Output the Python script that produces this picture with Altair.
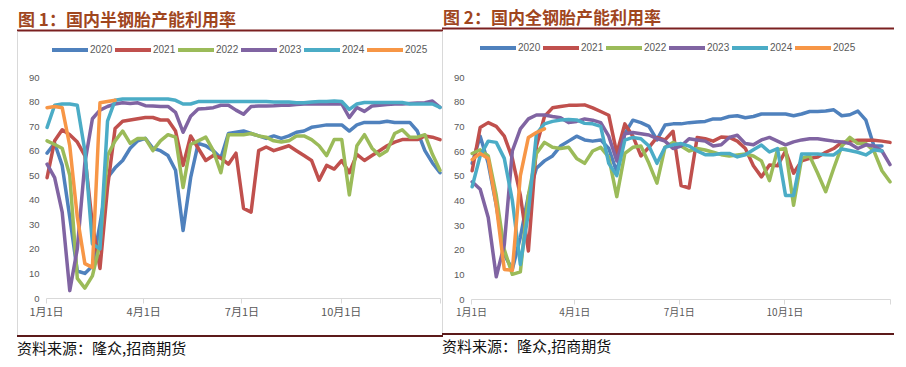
import altair as alt
import pandas as pd

# ---------------- data ----------------
years = ["2020", "2021", "2022", "2023", "2024", "2025"]
colors = ["#4F81BD", "#C0504D", "#9BBB59", "#8064A2", "#4BACC6", "#F79646"]

title1 = "图 1：国内半钢胎产能利用率"
title2 = "图 2：国内全钢胎产能利用率"
source_text = "资料来源：隆众,招商期货"

tick_days = [0, 90, 181, 273, 365]
tick_labels = ["1月1日", "4月1日", "7月1日", "10月1日", ""]
y_ticks = [0, 10, 20, 30, 40, 50, 60, 70, 80, 90]

first_day = 1
step_days = 7

# chart 1: semi-steel tyre utilisation (%), weekly
c1_2020 = [59, 63, 54, 33, 11, 10, 13, 30, 49, 53, 56, 61, 64, 65, 61, 60, 58, 52, 27.5, 49,
           63, 62, 60, 57, 67, 67.5, 68, 67, 66, 65, 66, 65, 66, 67.5, 68, 69.5, 70, 70.5, 70.5, 70.5,
           68, 70.5, 71.5, 71.5, 71.5, 72, 71.5, 71.5, 71.5, 68, 60, 55, 51]
c1_2021 = [49, 64, 68.5, 66.5, 63.5, 58, 30, 12, 45, 69, 72, 72.5, 73, 73.5, 73.5, 72.5, 72.5, 68, 54, 66,
           61, 56, 58, 57, 54.5, 59, 36.5, 35, 60, 61.5, 60, 61, 62, 60, 58, 56, 48, 54, 52.5, 56,
           51, 58.5, 56, 58, 60, 62, 63.5, 64.5, 64.5, 64.5, 66, 65.5, 64.5]
c1_2022 = [64, 62.5, 61, 50, 8, 4, 9, 22, 58, 64, 68, 63, 65, 65, 60, 64, 66.5, 65.5, 45, 62.5,
           64, 65.5, 60, 51, 66.5, 66.5, 66.5, 67, 66, 65.5, 64, 63.5, 64, 66, 66, 64.5, 62, 58, 64.5, 64.5,
           42, 62, 66.5, 61, 58, 60, 67, 68.5, 65.5, 65.5, 66.5, 58.5, 52]
c1_2023 = [54.5, 49, 35, 3, 20, 55, 73, 76.5, 78, 79, 79.5, 79.2, 79.5, 78.3, 78.2, 78, 78, 75.6, 67.5, 74,
           77, 77.2, 77.5, 78.5, 78.5, 76.5, 74.8, 78, 78.2, 78.2, 78.3, 78.5, 78.5, 78.8, 79, 79, 79, 79, 79, 79,
           73.5, 77.6, 76, 78.2, 78.5, 78.8, 79, 79, 79.2, 79.4, 79.5, 80.2, 77.6]
c1_2024 = [69.5, 78.5, 79, 79, 78.5, 60, 22, 20, 72, 80.5, 81, 81, 81, 81, 81, 81, 81, 80.5, 79, 79,
           80, 80, 80, 80, 80, 80, 80, 80, 80, 80, 79.8, 79.8, 79.8, 79.5, 79.5, 79.8, 80, 80, 80.2, 80,
           76.8, 79, 79.6, 79.6, 79.6, 79.6, 79.6, 79.6, 79, 79, 79, 79, 77.6]
c1_2025 = [77.5, 78, 77.5, 62, 33, 14, 12.5, 79.5, 80, 80.5]

# chart 2: all-steel tyre utilisation (%), weekly
c2_2020 = [55, 66, 55, 38, 18, 12, 25, 42, 53, 56, 58, 62, 64, 66, 64.5, 64, 64.5, 61, 51.5, 67,
           72.5, 71.5, 70, 64.5, 70.5, 71, 71, 71.5, 71.8, 72, 73, 73, 74, 74.3, 73.5, 74, 75, 75, 75, 75,
           74.3, 75, 76, 76, 76.2, 76.7, 74.3, 74.7, 76.2, 72.5, 62, 62]
c2_2021 = [52, 69.5, 71.5, 70, 66, 57, 42, 19.5, 62, 74, 77.5, 78, 78.5, 78.5, 78.7, 77.5, 76, 74.5, 59, 71,
           66, 58, 61.5, 65.5, 64.5, 68, 46, 45, 65.5, 65, 64, 65.7, 65.5, 64, 61, 54, 49.5, 54.3, 54, 60,
           51, 56, 57, 57.6, 59.5, 61, 63.5, 64, 64.4, 64.4, 64.4, 64, 63.5]
c2_2022 = [59, 60.5, 58, 42, 20, 10, 11, 42, 59, 63.5, 61.5, 61, 61.5, 57, 55, 60, 61.5, 57.5, 41.5, 59,
           61.5, 62, 55, 47, 61.5, 63.5, 62, 60, 61, 60.4, 59.5, 58.5, 58, 58.4, 58.8, 58, 56, 48, 60.5, 61,
           38, 57, 58, 51, 43.5, 53, 62, 65.5, 63, 63, 60, 52, 47.5]
c2_2023 = [47.5, 44.5, 33, 9, 22, 60, 69, 73, 74.6, 74.6, 74, 73.5, 71.5, 72, 73, 72.5, 71.5, 66, 56, 67,
           67.5, 67, 66.5, 65, 64, 61, 62, 65, 64.5, 64, 62, 62.5, 65.5, 66.4, 63, 62.5, 64.5, 65.5, 64, 62.5,
           63.7, 64.5, 65, 65, 64.5, 64, 63.7, 63, 61, 62.5, 62, 60, 54.5]
c2_2024 = [45.5, 58, 64, 63.5, 57, 40, 14, 35, 67, 71, 72, 72.6, 72.8, 72.6, 71.2, 71, 70, 55, 50, 64.4,
           65.5, 65, 62, 55, 61.5, 62.5, 63, 62, 60, 58.5, 58.5, 59, 59, 57.6, 58.5, 60.5, 62.4, 59.6, 61, 42,
           42, 58.8, 58.8, 58.8, 58.5, 58.4, 60.8, 60.2, 59.5, 58.4, 60.5, 60]
c2_2025 = [56.5, 59, 57, 38, 12, 11.6, 50, 65.5, 67.5, 69]


def long_df(series):
    rows = []
    for yr, vals in zip(years, series):
        for k, v in enumerate(vals):
            rows.append({"day": first_day + step_days * k, "value": v, "year": yr})
    return pd.DataFrame(rows)


df1 = long_df([c1_2020, c1_2021, c1_2022, c1_2023, c1_2024, c1_2025])
df2 = long_df([c2_2020, c2_2021, c2_2022, c2_2023, c2_2024, c2_2025])

label_expr = ""
for d, l in zip(tick_days, tick_labels):
    label_expr += f"datum.value == {d} ? '{l}' : "
label_expr += "''"

TITLE_COLOR = "#A0461E"
RULE_COLOR = "#7B2020"
FRAME_COLOR = "#D9D9D9"
LABEL_COLOR = "#595959"


def make_legend(legend_x, legend_y):
    base = dict(title=None, orient="none", legendX=legend_x, legendY=legend_y,
                direction="horizontal", columns=6, symbolType="stroke", symbolSize=1296,
                symbolStrokeWidth=4, labelFontSize=10, labelColor=LABEL_COLOR,
                labelFont="Liberation Sans", labelOffset=0)
    try:
        return alt.Legend(columnPadding=-6, **base)
    except Exception:
        return alt.Legend(columnPadding=0, **base)


def panel(df, title, W, H, top, legend_x, xlabel_size, right_extra, draw_left, draw_right):
    off = lambda page_y: page_y - 1 - top
    x = alt.X("day:Q",
              scale=alt.Scale(domain=[0, 365], nice=False, zero=False),
              axis=alt.Axis(values=tick_days, labelExpr=label_expr, title=None, grid=False,
                            domainColor=FRAME_COLOR, tickColor=FRAME_COLOR, tickSize=5,
                            labelFontSize=xlabel_size, labelColor=LABEL_COLOR,
                            labelFont="Noto Sans CJK SC", labelPadding=3, labelFlush=False))
    y = alt.Y("value:Q",
              scale=alt.Scale(domain=[0, 90], nice=False),
              axis=alt.Axis(values=y_ticks, title=None, grid=False, domain=False, ticks=False,
                            labelPadding=7, labelFontSize=9.5, labelColor=LABEL_COLOR,
                            labelFont="Liberation Sans"))
    color = alt.Color("year:N",
                      scale=alt.Scale(domain=years, range=colors),
                      legend=make_legend(legend_x, off(27)))
    lines = alt.Chart(df).mark_line(strokeWidth=3.5, strokeJoin="round", strokeCap="round").encode(
        x=x, y=y, color=color)

    one = pd.DataFrame({"a": [0]})
    title_mark = alt.Chart(pd.DataFrame({"t": [title]})).mark_text(
        align="left", baseline="middle", font="Noto Sans CJK SC", fontSize=17, fontWeight="bold",
        color=TITLE_COLOR).encode(text="t:N", x=alt.value(-28), y=alt.value(16.5 - top))
    title_rule = alt.Chart(one).mark_rule(color=RULE_COLOR, strokeWidth=2).encode(
        x=alt.value(-29), x2=alt.value(W + right_extra), y=alt.value(off(27.5)))
    bottom_rule = alt.Chart(one).mark_rule(color="#5C1A1A", strokeWidth=2).encode(
        x=alt.value(-29), x2=alt.value(W + right_extra), y=alt.value(off(333)))
    layers = [title_rule, bottom_rule]
    if draw_left:
        layers.append(alt.Chart(one).mark_rule(color=FRAME_COLOR, strokeWidth=1).encode(
            x=alt.value(-28.5), y=alt.value(off(28.5)), y2=alt.value(off(332))))
    if draw_right:
        layers.append(alt.Chart(one).mark_rule(color=FRAME_COLOR, strokeWidth=1).encode(
            x=alt.value(W + right_extra - 0.5), y=alt.value(off(28.5)), y2=alt.value(off(332))))
    footer = alt.Chart(pd.DataFrame({"t": [source_text]})).mark_text(
        align="left", baseline="middle", font="Noto Sans CJK SC", fontSize=15,
        color="#111111").encode(text="t:N", x=alt.value(-29), y=alt.value(off(346)))
    layers += [title_mark, footer, lines]
    return alt.layer(*layers).properties(width=W, height=H)


p1 = panel(df1, title1, 394, 221, 73, 4, 11, 3, True, True)
p2 = panel(df2, title2, 419, 222, 75, 7, 10, 4, False, False)

try:
    row = alt.hconcat(p1, p2, spacing=-5)
except Exception:
    row = alt.hconcat(p1, p2, spacing=0)

chart = row.resolve_scale(
    color="independent", x="independent", y="independent"
).resolve_legend(color="independent").properties(
    padding={"left": 7, "top": 1, "right": 0, "bottom": 0},
    background="white",
).configure_view(stroke="transparent")

chart.save("out.html", embed_options={"renderer": "svg", "actions": False})
